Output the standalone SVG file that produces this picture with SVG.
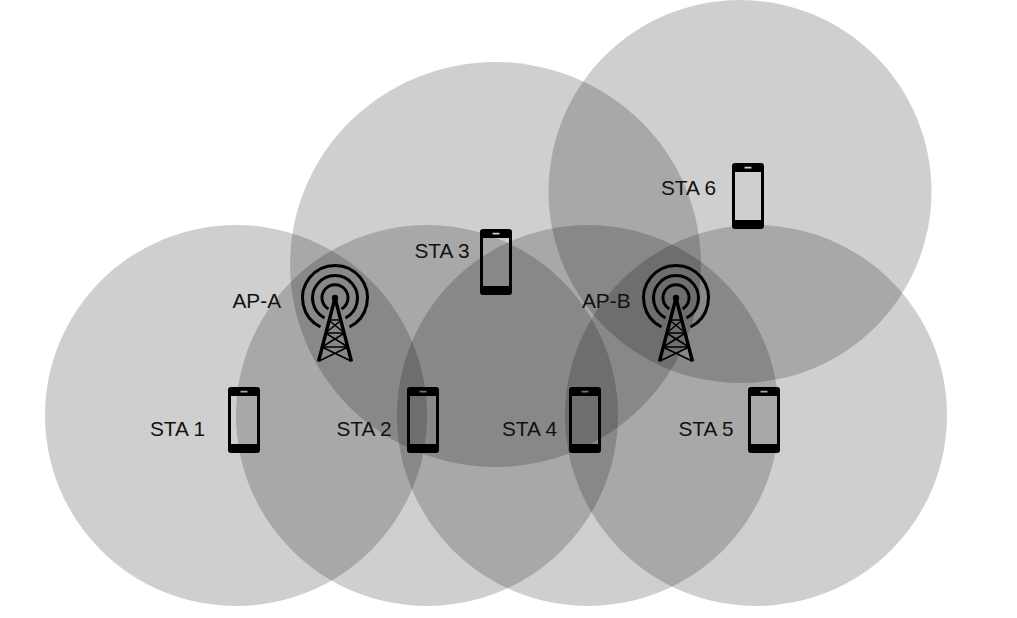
<svg xmlns="http://www.w3.org/2000/svg" width="1017" height="618" viewBox="0 0 1017 618">
<style>
.cov{fill:#000;fill-opacity:.19;stroke:none}
text{font-family:"Liberation Sans",Arial,sans-serif;font-size:20.800px;fill:#111}
.ring{fill:none;stroke:#000;stroke-width:3}
.tw{fill:none;stroke:#000;stroke-width:1.6}
.leg{fill:none;stroke:#000;stroke-width:3.4}
</style>
<defs>
<g id="phone">
<path fill-rule="evenodd" d="M3 0H29Q32 0 32 3V63Q32 66 29 66H3Q0 66 0 63V3Q0 0 3 0ZM3 9V57H29V9ZM12.500 3.800V5.600H19.500V3.800Z" fill="#000"/>
</g>
<g id="tower">
<path class="ring" d="M-14.500 29A32.500 32.500 0 1 1 14.500 29"/>
<path class="ring" d="M-10.500 20A22.500 22.500 0 1 1 10.500 20"/>
<path class="ring" d="M-6.500 11A13 13 0 1 1 6.500 11"/>
<circle r="3.200" fill="#000"/>
<path class="leg" d="M0 0L-16.500 63.500M0 0L16.500 63.500"/>
<path class="tw" d="M-6.500 22H6.500M-9.500 35H9.500M-13 49H13M-6.500 22L9.500 35M6.500 22L-9.500 35M-9.500 35L13 49M9.500 35L-13 49M-13 49L16 63M13 49L-16 63"/>
</g>
</defs>
<rect width="1017" height="618" fill="#fff"/>
<g id="coverage">
<ellipse class="cov" cx="236" cy="415.500" rx="191" ry="190.500"/>
<ellipse class="cov" cx="427" cy="415.500" rx="191" ry="190.500"/>
<ellipse class="cov" cx="588" cy="415.500" rx="191" ry="190.500"/>
<ellipse class="cov" cx="756" cy="415.500" rx="191" ry="190.500"/>
<ellipse class="cov" cx="495.500" cy="264.500" rx="205.500" ry="202.500"/>
<ellipse class="cov" cx="740" cy="191.500" rx="191.500" ry="191.500"/>
</g>
<g id="connectors"/>
<g id="ap-a"><use href="#tower" x="335" y="298"/><text x="232.500" y="308">AP-A</text></g>
<g id="ap-b"><use href="#tower" x="676" y="298"/><text x="582" y="308">AP-B</text></g>
<g id="sta-1"><use href="#phone" x="228" y="387"/><text x="150" y="436">STA 1</text></g>
<g id="sta-2"><use href="#phone" x="407" y="387"/><text x="336.500" y="436">STA 2</text></g>
<g id="sta-3"><use href="#phone" x="480" y="229"/><text x="414.500" y="258">STA 3</text></g>
<g id="sta-4"><use href="#phone" x="569" y="387"/><text x="502" y="436">STA 4</text></g>
<g id="sta-5"><use href="#phone" x="748" y="387"/><text x="678.500" y="436">STA 5</text></g>
<g id="sta-6"><use href="#phone" x="732" y="163"/><text x="661" y="195">STA 6</text></g>
</svg>
